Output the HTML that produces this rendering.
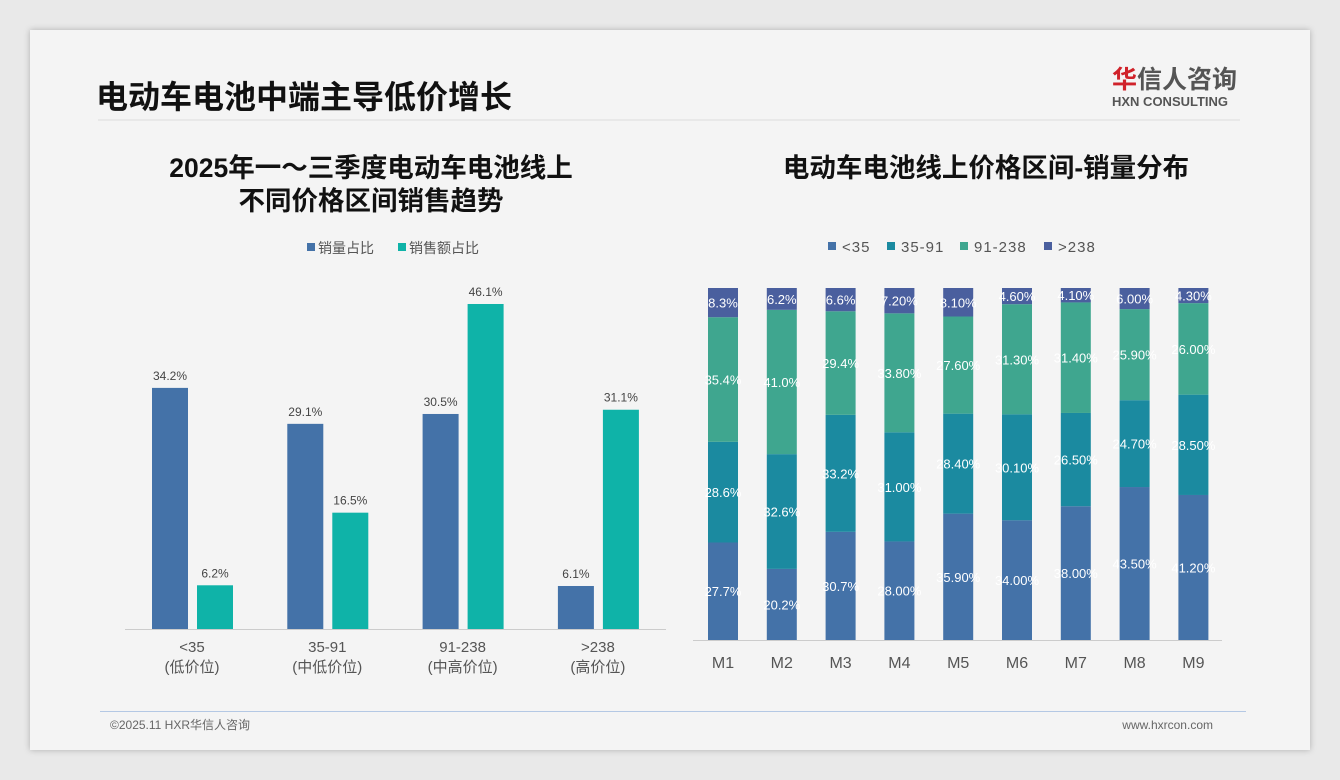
<!DOCTYPE html>
<html><head><meta charset="utf-8">
<style>
body{margin:0;width:1340px;height:780px;background:#e9e9e9;font-family:"Liberation Sans","Noto Sans CJK SC",sans-serif;overflow:hidden}
#card{position:absolute;left:30px;top:30px;width:1280px;height:720px;background:#f4f4f4;box-shadow:0 0 6px rgba(0,0,0,.25)}
</style></head><body>
<div id="card"></div>
<svg id="s" width="1340" height="780" style="position:absolute;left:0;top:0">
<text x="96" y="108" font-size="32" font-weight="bold" fill="#111">电动车电池中端主导低价增长</text>
<text x="1112" y="88" font-size="25" font-weight="bold" fill="#d0222a">华<tspan fill="#555">信人咨询</tspan></text>
<text x="1112" y="106" font-size="13" font-weight="bold" fill="#555">HXN CONSULTING</text>
<line x1="98" y1="120" x2="1240" y2="120" stroke="#ddd" stroke-width="1"/>
<text x="371" y="177" font-size="26.5" font-weight="bold" text-anchor="middle" fill="#111">2025年一～三季度电动车电池线上</text>
<text x="371" y="210" font-size="26.5" font-weight="bold" text-anchor="middle" fill="#111">不同价格区间销售趋势</text>
<text x="986" y="177" font-size="26.5" font-weight="bold" text-anchor="middle" fill="#111">电动车电池线上价格区间-销量分布</text>
<rect x="307" y="243" width="8" height="8" fill="#4472a8"/>
<text x="318" y="253" font-size="14" fill="#555">销量占比</text>
<rect x="398" y="243" width="8" height="8" fill="#0fb3a8"/>
<text x="409" y="253" font-size="14" fill="#555">销售额占比</text>
<line x1="125" y1="629.5" x2="666" y2="629.5" stroke="#ccc"/>
<line x1="693" y1="640.5" x2="1222" y2="640.5" stroke="#ccc"/>
<line x1="100" y1="711.5" x2="1246" y2="711.5" stroke="#b4c8e4"/>
<text x="110" y="729" font-size="12" fill="#666">©2025.11 HXR华信人咨询</text>
<text x="1213" y="729" font-size="12" fill="#666" text-anchor="end">www.hxrcon.com</text>
</svg>
<script>
const leftCats=["<35","35-91","91-238",">238"];
const leftSub=["(低价位)","(中低价位)","(中高价位)","(高价位)"];
const volumeShare=[34.2,29.1,30.5,6.1];
const revenueShare=[6.2,16.5,46.1,31.1];
const months=["M1","M2","M3","M4","M5","M6","M7","M8","M9"];
const seriesNames=["<35","35-91","91-238",">238"];
const sLow=[27.7,20.2,30.7,28.0,35.9,34.0,38.0,43.5,41.2];
const sMidLow=[28.6,32.6,33.2,31.0,28.4,30.1,26.5,24.7,28.5];
const sMidHigh=[35.4,41.0,29.4,33.8,27.6,31.3,31.4,25.9,26.0];
const sHigh=[8.3,6.2,6.6,7.2,8.1,4.6,4.1,6.0,4.3];
const lblLow=["27.7%","20.2%","30.7%","28.00%","35.90%","34.00%","38.00%","43.50%","41.20%"];
const lblMidLow=["28.6%","32.6%","33.2%","31.00%","28.40%","30.10%","26.50%","24.70%","28.50%"];
const lblMidHigh=["35.4%","41.0%","29.4%","33.80%","27.60%","31.30%","31.40%","25.90%","26.00%"];
const lblHigh=["8.3%","6.2%","6.6%","7.20%","8.10%","4.60%","4.10%","6.00%","4.30%"];
const NS="http://www.w3.org/2000/svg";const svg=document.getElementById('s');
function mk(t,a){const e=document.createElementNS(NS,t);for(const k in a)e.setAttribute(k,a[k]);svg.appendChild(e);return e;}
const lBase=629,lScale=7.05;
const lx=i=>170+i*135.3;
const ly=v=>lBase-v*lScale;
leftCats.forEach((c,i)=>{
 [[volumeShare,0,"#4472a8","volume"],[revenueShare,45,"#0fb3a8","revenue"]].forEach(([arr,off,col,nm])=>{
  const v=arr[i],cx=lx(i)+off;
  const r=mk('rect',{x:cx-18,y:ly(v),width:36,height:lBase-ly(v),fill:col});
  
  
  const t=mk('text',{x:cx,y:ly(v)-8,'font-size':12,fill:'#444','text-anchor':'middle'});t.textContent=v.toFixed(1)+'%';
  
  
 });
 const t=mk('text',{x:lx(i)+22,y:652,'font-size':15,fill:'#555','text-anchor':'middle'});t.textContent=c;
 
 
 const t2=mk('text',{x:lx(i)+22,y:672,'font-size':15,fill:'#555','text-anchor':'middle'});t2.textContent=leftSub[i];
 
 
});
const legCols=["#4472a8","#1b8aa0","#3fa68f","#4a5f9e"];
const legX=[828,887,960,1044];
seriesNames.forEach((n,i)=>{
 const r=mk('rect',{x:legX[i],y:242,width:8,height:8,fill:legCols[i]});
 
 
 const t=mk('text',{x:legX[i]+14,y:252,'font-size':15,fill:'#555','letter-spacing':'1'});t.textContent=n;
 
 
});
const rBase=640,rH=352;
const rx=i=>723+i*58.8;
const series=[sLow,sMidLow,sMidHigh,sHigh],labels=[lblLow,lblMidLow,lblMidHigh,lblHigh];
months.forEach((m,i)=>{
 const tot=sLow[i]+sMidLow[i]+sMidHigh[i]+sHigh[i];
 let y=rBase;
 series.forEach((s,k)=>{
  const h=s[i]/tot*rH;
  const r=mk('rect',{x:rx(i)-15,y:y-h,width:30,height:h,fill:legCols[k]});
  
  
  const t=mk('text',{x:rx(i),y:y-h/2+5,'font-size':13,fill:'#fff','text-anchor':'middle'});t.textContent=labels[k][i];
  
  
  y-=h;
 });
 const t=mk('text',{x:rx(i),y:668,'font-size':16,fill:'#555','text-anchor':'middle'});t.textContent=m;
 
 
});
</script>
</body></html>
